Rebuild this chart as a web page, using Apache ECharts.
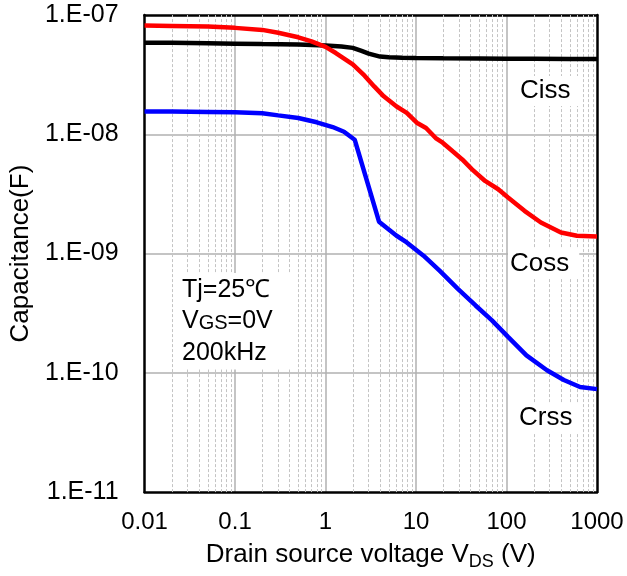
<!DOCTYPE html>
<html>
<head>
<meta charset="utf-8">
<script src="https://cdn.jsdelivr.net/npm/echarts@6/dist/echarts.min.js"></script>
<style>
  html, body { margin: 0; padding: 0; background: #fff; }
  #chart { width: 627px; height: 576px; }
</style>
</head>
<body>
<div id="chart"></div>
<script>
// Capacitance vs. drain-source voltage (Tj = 25 °C, VGS = 0 V, f = 200 kHz)
const cissV = [0.01, 0.02, 0.05, 0.1, 0.2, 0.5, 1, 1.5, 2, 2.5, 3, 4, 5, 7, 10, 20, 50, 100, 200, 500, 1000];
const cissC = [5.85e-8, 5.85e-8, 5.8e-8, 5.75e-8, 5.7e-8, 5.65e-8, 5.55e-8, 5.45e-8, 5.3e-8, 5.0e-8, 4.75e-8, 4.48e-8, 4.42e-8, 4.38e-8, 4.35e-8, 4.33e-8, 4.32e-8, 4.3e-8, 4.3e-8, 4.28e-8, 4.28e-8];

const cossV = [0.01, 0.02, 0.05, 0.1, 0.2, 0.3, 0.5, 0.7, 1, 1.3, 2, 2.7, 3.45, 4.4, 6.1, 7.9, 10.2, 12.9, 16.5, 19.7, 25.4, 32.4, 41.6, 58, 81, 104, 158, 240, 400, 600, 1000];
const cossC = [8.15e-8, 8.1e-8, 8.0e-8, 7.8e-8, 7.5e-8, 7.1e-8, 6.5e-8, 6.0e-8, 5.4e-8, 4.8e-8, 3.85e-8, 3.1e-8, 2.52e-8, 2.08e-8, 1.71e-8, 1.51e-8, 1.25e-8, 1.13e-8, 9.3e-9, 8.5e-9, 7.2e-9, 6.15e-9, 5.08e-9, 4.06e-9, 3.46e-9, 2.95e-9, 2.28e-9, 1.82e-9, 1.5e-9, 1.41e-9, 1.39e-9];

const crssV = [0.01, 0.02, 0.05, 0.1, 0.2, 0.3, 0.5, 0.8, 1.2, 1.6, 2.1, 3.9, 6.1, 7.9, 12.1, 18.2, 29, 45.5, 69, 104, 166, 280, 430, 650, 1000];
const crssC = [1.55e-8, 1.55e-8, 1.54e-8, 1.53e-8, 1.5e-8, 1.44e-8, 1.37e-8, 1.26e-8, 1.15e-8, 1.05e-8, 9.0e-9, 1.85e-9, 1.41e-9, 1.24e-9, 9.6e-10, 7.18e-10, 5.05e-10, 3.67e-10, 2.75e-10, 2.0e-10, 1.4e-10, 1.05e-10, 8.7e-11, 7.6e-11, 7.3e-11];

const xDecades = [-2, -1, 0, 1, 2];
const yDecades = [-11, -10, -9, -8];
const minorSteps = [2, 3, 4, 5, 6, 7, 8, 9];

const FONT = "'Liberation Sans', Arial, sans-serif";

function pairs(xs, ys) { return xs.map((x, i) => [x, ys[i]]); }
function minorValues(decades) {
  const out = [];
  decades.forEach(d => minorSteps.forEach(k => out.push(k * Math.pow(10, d))));
  return out;
}
function xLabel(v) {
  const e = Math.round(Math.log10(v));
  return e < 0 ? Math.pow(10, e).toFixed(-e) : String(Math.round(Math.pow(10, e)));
}
function yLabel(v) {
  const e = Math.round(Math.log10(v));
  const a = Math.abs(e);
  return '1.E' + (e < 0 ? '-' : '+') + (a < 10 ? '0' + a : String(a));
}

// top / right frame edges
const frameAxis = {
  axisLine: { show: true, onZero: false, lineStyle: { color: '#000', width: 2.5 } },
  axisTick: { show: false },
  axisLabel: { show: false },
  splitLine: { show: false }
};

const chart = echarts.init(document.getElementById('chart'), null, { renderer: 'canvas' });

const minorLine = { type: [3, 2], color: '#c4c4c4', width: 1 };
const majorLine = { color: '#b0b0b0', width: 1.5 };

chart.setOption({
  animation: false,
  backgroundColor: '#fff',
  grid: { left: 136, right: 30, top: 15, bottom: 82 },
  xAxis: [
    {
      type: 'log', logBase: 10, min: 0.01, max: 1000, splitNumber: 5,
      position: 'bottom',
      name: 'Drain source voltage V{sub|DS} (V)',
      nameLocation: 'middle', nameGap: 44,
      nameTextStyle: {
        fontFamily: FONT, fontSize: 26, color: '#000', lineHeight: 26,
        rich: { sub: { fontFamily: FONT, fontSize: 18, color: '#000', lineHeight: 18, padding: [14, 0, 0, 0] } }
      },
      axisLine: { show: true, onZero: false, lineStyle: { color: '#000', width: 2.5 } },
      axisTick: { show: false },
      axisLabel: { fontFamily: FONT, fontSize: 24, color: '#000', margin: 18, formatter: xLabel, showMinLabel: true, showMaxLabel: true },
      splitLine: { show: true, showMinLine: false, showMaxLine: false, lineStyle: majorLine }
    },
    Object.assign({ type: 'log', logBase: 10, min: 0.01, max: 1000, position: 'top' }, frameAxis)
  ],
  yAxis: [
    {
      type: 'log', logBase: 10, min: 1e-11, max: 1e-7, splitNumber: 4,
      position: 'left',
      name: 'Capacitance(F)',
      nameLocation: 'middle', nameGap: 102,
      nameTextStyle: { fontFamily: FONT, fontSize: 26, color: '#000' },
      axisLine: { show: true, onZero: false, lineStyle: { color: '#000', width: 2.5 } },
      axisTick: { show: false },
      axisLabel: { fontFamily: FONT, fontSize: 25, color: '#000', margin: 26, formatter: yLabel, showMinLabel: true, showMaxLabel: true },
      splitLine: { show: true, showMinLine: false, showMaxLine: false, lineStyle: majorLine }
    },
    Object.assign({ type: 'log', logBase: 10, min: 1e-11, max: 1e-7, position: 'right' }, frameAxis)
  ],
  graphic: [
    {
      type: 'text', left: 178, top: 273, z: 50,
      style: {
        text: 'Tj=25℃\nV{s|GS}=0V\n200kHz',
        fontFamily: FONT, fontSize: 25, fill: '#000', lineHeight: 31.5,
        backgroundColor: '#fff', padding: [1, 22, 1, 4],
        rich: { s: { fontFamily: FONT, fontSize: 20, fill: '#000', lineHeight: 31.5, padding: [5, 0, 0, 0] } }
      }
    },
    { type: 'text', left: 513, top: 76, z: 50,
      style: { text: 'Ciss', fontFamily: FONT, fontSize: 26, fill: '#000', backgroundColor: '#fff', padding: [2, 8, 2, 7] } },
    { type: 'text', left: 508, top: 249, z: 50,
      style: { text: 'Coss', fontFamily: FONT, fontSize: 26, fill: '#000', backgroundColor: '#fff', padding: [2, 10, 2, 2] } },
    { type: 'text', left: 513, top: 403, z: 50,
      style: { text: 'Crss', fontFamily: FONT, fontSize: 26, fill: '#000', backgroundColor: '#fff', padding: [2, 8, 2, 6] } }
  ],
  series: [
    {
      name: 'minor grid', type: 'line', data: [], z: 1, silent: true,
      markLine: {
        silent: true, symbol: ['none', 'none'], label: { show: false },
        lineStyle: minorLine, animation: false,
        data: minorValues(xDecades).map(v => ({ xAxis: v }))
          .concat(minorValues(yDecades).map(v => ({ yAxis: v })))
      }
    },
    {
      name: 'Ciss', type: 'line', data: pairs(cissV, cissC), showSymbol: false, z: 5,
      lineStyle: { color: '#000000', width: 4.5 }, itemStyle: { color: '#000000' }
    },
    {
      name: 'Coss', type: 'line', data: pairs(cossV, cossC), showSymbol: false, z: 5,
      lineStyle: { color: '#ff0000', width: 4.5 }, itemStyle: { color: '#ff0000' }
    },
    {
      name: 'Crss', type: 'line', data: pairs(crssV, crssC), showSymbol: false, z: 5,
      lineStyle: { color: '#0000ff', width: 4.5 }, itemStyle: { color: '#0000ff' }
    }
  ]
});
</script>
</body>
</html>
